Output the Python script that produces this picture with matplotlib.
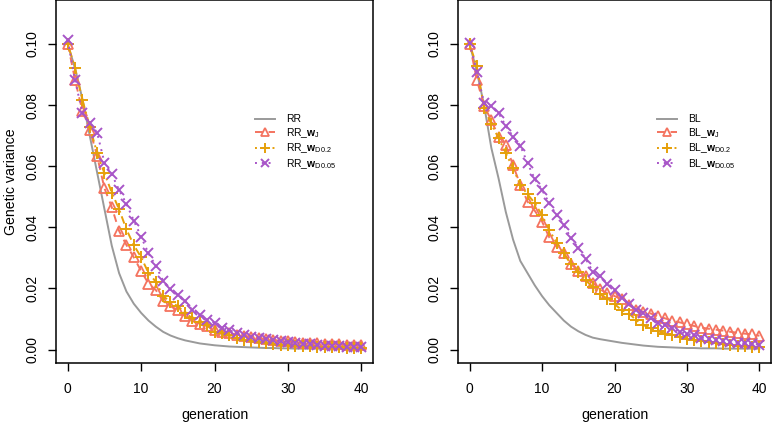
import matplotlib
matplotlib.use("Agg")
import matplotlib.pyplot as plt
import numpy as np

plt.rcParams['font.family'] = ['Liberation Sans', 'DejaVu Sans']
plt.rcParams['mathtext.fontset'] = 'custom'
plt.rcParams['mathtext.rm'] = 'Liberation Sans'
plt.rcParams['mathtext.bf'] = 'Liberation Sans:bold'
plt.rcParams['mathtext.it'] = 'Liberation Sans:italic'

generation = list(range(41))

rr = [0.100, 0.092, 0.082, 0.070, 0.058, 0.046, 0.034, 0.025, 0.019, 0.015,
      0.012, 0.0095, 0.0075, 0.0058, 0.0046, 0.0037, 0.0030, 0.0025, 0.0020, 0.0017,
      0.0014, 0.0012, 0.0010, 0.0009, 0.0008, 0.0007, 0.0006, 0.0005, 0.0005, 0.0004,
      0.0004, 0.0003, 0.0003, 0.0003, 0.0003, 0.0002, 0.0002, 0.0002, 0.0002, 0.0002, 0.0002]
rr_wj = [0.100, 0.0883, 0.078, 0.072, 0.0634, 0.0528, 0.0466, 0.0388, 0.0342, 0.0302,
         0.0257, 0.0216, 0.0195, 0.0158, 0.0142, 0.0129, 0.0109, 0.0093, 0.0085, 0.0077,
         0.0063, 0.0058, 0.0053, 0.0049, 0.0045, 0.0041, 0.0037, 0.0034, 0.0031, 0.0029,
         0.0027, 0.0025, 0.0023, 0.0022, 0.0020, 0.0019, 0.0018, 0.0017, 0.0016, 0.0015, 0.0014]
rr_wd02 = [0.100, 0.0921, 0.0817, 0.073, 0.0643, 0.0577, 0.0514, 0.0459, 0.0393, 0.0342,
           0.0302, 0.0251, 0.0222, 0.0175, 0.0156, 0.0142, 0.0120, 0.0102, 0.0091, 0.0080,
           0.0058, 0.0055, 0.0047, 0.0039, 0.0031, 0.0027, 0.0024, 0.0021, 0.0018, 0.0016,
           0.0014, 0.0013, 0.0012, 0.0011, 0.0010, 0.0009, 0.0008, 0.0007, 0.0006, 0.0005, 0.0004]
rr_wd005 = [0.1012, 0.0881, 0.0774, 0.0743, 0.0710, 0.0612, 0.0574, 0.0522, 0.0477, 0.0422,
            0.0369, 0.0315, 0.0274, 0.0225, 0.0197, 0.0178, 0.0158, 0.0129, 0.0113, 0.0098,
            0.0087, 0.0072, 0.0063, 0.0055, 0.0047, 0.0042, 0.0037, 0.0034, 0.0030, 0.0027,
            0.0024, 0.0021, 0.0019, 0.0017, 0.0015, 0.0013, 0.0012, 0.0011, 0.0010, 0.0009, 0.0008]

bl = [0.100, 0.091, 0.080, 0.066, 0.056, 0.045, 0.036, 0.029, 0.025, 0.021,
      0.0175, 0.0145, 0.012, 0.0095, 0.0075, 0.0060, 0.0048, 0.0039, 0.0034, 0.0030,
      0.0026, 0.0022, 0.0019, 0.0016, 0.0013, 0.0011, 0.0009, 0.0008, 0.0007, 0.0006,
      0.0005, 0.0005, 0.0004, 0.0004, 0.0004, 0.0003, 0.0003, 0.0003, 0.0003, 0.0003, 0.0003]
bl_wj = [0.100, 0.0883, 0.0798, 0.075, 0.0697, 0.067, 0.0603, 0.0539, 0.0484, 0.0454,
         0.0419, 0.0367, 0.0337, 0.0315, 0.0280, 0.0258, 0.0240, 0.0219, 0.0197, 0.0184,
         0.0175, 0.0164, 0.0145, 0.0131, 0.0123, 0.0118, 0.0109, 0.0102, 0.0094, 0.0089,
         0.0083, 0.0077, 0.0072, 0.0068, 0.0065, 0.0062, 0.0058, 0.0055, 0.0052, 0.0050, 0.0045]
bl_wd02 = [0.100, 0.0927, 0.079, 0.0738, 0.0692, 0.0643, 0.0593, 0.0539, 0.0508, 0.0479,
           0.0440, 0.0391, 0.0350, 0.0315, 0.0279, 0.0255, 0.0227, 0.0205, 0.0181, 0.0167,
           0.0149, 0.0129, 0.0118, 0.0096, 0.0080, 0.0069, 0.0060, 0.0052, 0.0047, 0.0042,
           0.0036, 0.0031, 0.0027, 0.0024, 0.0021, 0.0018, 0.0015, 0.0013, 0.0011, 0.0009, 0.0007]
bl_wd005 = [0.1003, 0.091, 0.0807, 0.0796, 0.0774, 0.0732, 0.0697, 0.0667, 0.0610, 0.0558,
            0.0522, 0.0479, 0.0440, 0.0408, 0.0364, 0.0333, 0.0298, 0.0255, 0.0240, 0.0216,
            0.0195, 0.0169, 0.0149, 0.0129, 0.0120, 0.0102, 0.0087, 0.0080, 0.0069, 0.0058,
            0.0052, 0.0047, 0.0039, 0.0035, 0.0031, 0.0028, 0.0025, 0.0022, 0.0020, 0.0018, 0.0016]

x_ticks = [0, 10, 20, 30, 40]
y_ticks = [0.00, 0.02, 0.04, 0.06, 0.08, 0.10]

GRAY = '#9a9a9a'
CORAL = '#f4735f'
ORANGE = '#e6a00a'
PURPLE = '#a855c8'

fig = plt.figure(figsize=(7.77, 4.22), dpi=100)
W, H = 777, 422
axL = fig.add_axes([56 / W, 1 - 363 / H, (373 - 56) / W, 363 / H])
axR = fig.add_axes([458 / W, 1 - 363 / H, (771 - 458) / W, 363 / H])


def draw(ax, prefix, base, wj, wd02, wd005, legend_x):
    lw = 1.4
    ax.plot(generation, base, color=GRAY, lw=lw, label=prefix)
    ax.plot(generation, wj, color=CORAL, lw=lw, ls=(0, (4, 3)), marker='^',
            ms=7, mfc='none', mew=1.3, label=prefix + r'_$\mathbf{w}_{\mathrm{J}}$')
    ax.plot(generation, wd02, color=ORANGE, lw=lw, ls=(0, (1, 2, 4, 2)), marker='+',
            ms=9, mew=1.4, label=prefix + r'_$\mathbf{w}_{\mathrm{D0.2}}$')
    ax.plot(generation, wd005, color=PURPLE, lw=lw, ls=(0, (1, 2.5)), marker='x',
            ms=6.5, mew=1.4, label=prefix + r'_$\mathbf{w}_{\mathrm{D0.05}}$')
    ax.set_xlim(-1.6, 41.6)
    ax.set_ylim(-0.0044, 0.1144)
    ax.set_xticks(x_ticks)
    ax.set_xticklabels([str(v) for v in x_ticks])
    ax.set_yticks(y_ticks)
    ax.set_yticklabels(['%.2f' % v for v in y_ticks], rotation=90, va='center')
    ax.tick_params(axis='both', direction='out', length=6, width=1, labelsize=10,
                   color='black')
    ax.tick_params(axis='y', pad=6)
    ax.tick_params(axis='x', pad=8)
    for s in ax.spines.values():
        s.set_linewidth(1.1)
        s.set_color('black')
    ax.set_xlabel('generation', fontsize=10.2, labelpad=8)
    leg = ax.legend(loc='upper left', bbox_to_anchor=(legend_x, 0.685), frameon=False,
                    fontsize=7.5, handlelength=1.92, handletextpad=1.06,
                    labelspacing=0.16, borderpad=0, borderaxespad=0)
    for h in leg.legend_handles:
        h.set_markersize(h.get_markersize() * 0.8)


draw(axL, 'RR', rr, rr_wj, rr_wd02, rr_wd005, 0.628)
draw(axR, 'BL', bl, bl_wj, bl_wd02, bl_wd005, 0.635)
axL.set_ylabel('Genetic variance', fontsize=10.2, labelpad=5)

fig.savefig('out.png', dpi=100)
